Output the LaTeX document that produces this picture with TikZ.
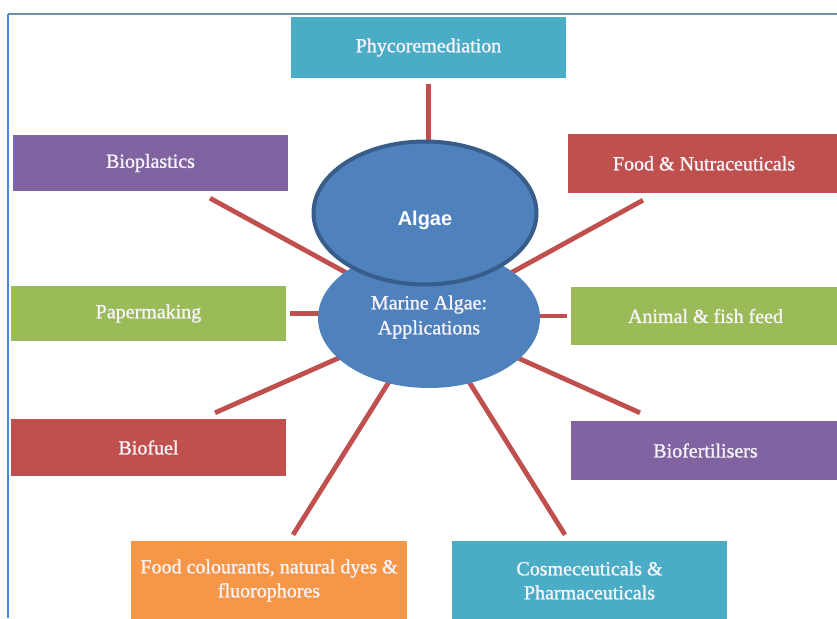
\documentclass[tikz,border=0pt]{standalone}
\usepackage{fontspec}
\setmainfont{Liberation Serif}
\newfontfamily\boxfont[FakeBold=1.2]{Liberation Serif}
\newfontfamily\algaefont{Liberation Sans}
\usetikzlibrary{shapes.geometric,calc}
\pgfdeclarelayer{bg}
\pgfsetlayers{bg,main}
\definecolor{cteal}{HTML}{4BACC6}
\definecolor{cpurple}{HTML}{8064A2}
\definecolor{cred}{HTML}{C0504D}
\definecolor{cgreen}{HTML}{9BBB59}
\definecolor{corange}{HTML}{F79646}
\definecolor{cblue}{HTML}{4F81BD}
\definecolor{cdarkblue}{HTML}{385D8A}
\definecolor{ctext}{HTML}{F6F3FA}
\definecolor{cframeL}{HTML}{4A86E8}
\definecolor{cframeT}{HTML}{6F8FAF}
\begin{document}
\begin{tikzpicture}[x=1pt,y=-1pt,
  appbox/.style={rectangle,inner sep=2pt,minimum width=275pt,text=ctext,align=center,
    font=\boxfont\fontsize{20}{24}\selectfont},
  link/.style={draw=cred,line width=4.8pt}]
\useasboundingbox (0,0) rectangle (837,618);
% frame
\draw[cframeT,line width=1.5pt] (8,14) -- (837,14);
\draw[cframeL,line width=1.5pt] (8,14) -- (8,618);
% boxes
\node[appbox,fill=cteal,minimum height=61pt] (phyco) at (428.5,47.5) {Phycoremediation};
\node[appbox,fill=cpurple,minimum height=56pt] (biopl) at (150.5,163) {Bioplastics};
\node[appbox,fill=cred,minimum height=59pt,minimum width=272pt] (food) at (704,163.5) {Food \& Nutraceuticals};
\node[appbox,fill=cgreen,minimum height=55pt] (paper) at (148.5,313.5) {Papermaking};
\node[appbox,fill=cgreen,minimum height=58pt,minimum width=269pt] (animal) at (705.5,316) {Animal \& fish feed};
\node[appbox,fill=cred,minimum height=57pt] (biofuel) at (148.5,447.5) {Biofuel};
\node[appbox,fill=cpurple,minimum height=59pt,minimum width=269pt] (biofert) at (705.5,450.5) {Biofertilisers};
\node[appbox,fill=corange,minimum height=79pt,minimum width=276pt] (colour) at (269,580.5) {Food colourants, natural dyes \&\\fluorophores};
\node[appbox,fill=cteal,minimum height=79pt] (cosme) at (589.5,580.5) {Cosmeceuticals \&\\Pharmaceuticals};
% central ellipses
\node[ellipse,fill=cblue,inner sep=0pt,minimum width=222pt,minimum height=140pt] (marine) at (429,318) {};
\node[text=ctext,align=center,font=\boxfont\fontsize{20}{25}\selectfont] (marinelabel) at (429,317) {Marine Algae:\\Applications};
\node[ellipse,fill=cblue,draw=cdarkblue,line width=4pt,inner sep=0pt,minimum width=223pt,
  minimum height=143pt] (algae) at (425,213) {};
\node[text=white,font=\algaefont\bfseries\fontsize{20}{24}\selectfont] (algaelabel) at (425,220) {Algae};
% connectors
\begin{pgfonlayer}{bg}
\draw[link,shorten <=6pt] (phyco.south) -- (phyco.south |- algae.center);
\draw[link] ($(biopl.south)+(59.5,7)$) -- (marine.center);
\draw[link] ($(food.south)+(-61,7)$) -- (marine.center);
\draw[link,shorten <=4pt] (paper.east) -- (paper.east -| marine.center);
\draw[link,shorten <=4pt] (animal.west) -- (animal.west -| marine.center);
\draw[link] ($(biofuel.north)+(66.5,-6)$) -- (marine.center);
\draw[link] ($(biofert.north)+(-65.5,-8)$) -- (marine.center);
\draw[link] ($(colour.north)+(24,-6)$) -- (marine.center);
\draw[link] ($(cosme.north)+(-24.5,-6)$) -- (marine.center);
\end{pgfonlayer}
\end{tikzpicture}
\end{document}
